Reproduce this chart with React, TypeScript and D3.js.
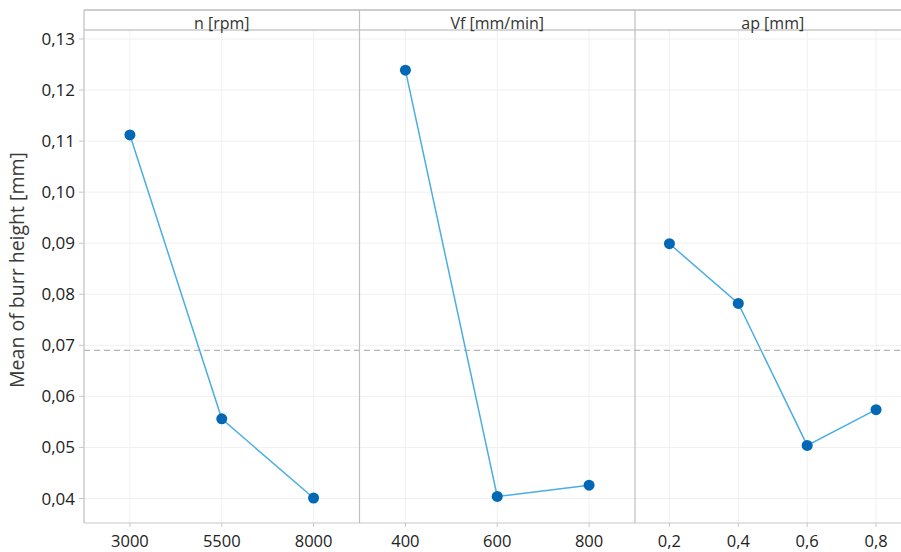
import React from "react";
import * as d3 from "d3";

const panelTitles = ["n [rpm]", "Vf [mm/min]", "ap [mm]"];
const nLevels = ["3000", "5500", "8000"];
const nMeans = [0.1112, 0.0556, 0.0401];
const vfLevels = ["400", "600", "800"];
const vfMeans = [0.1239, 0.0404, 0.0426];
const apLevels = ["0,2", "0,4", "0,6", "0,8"];
const apMeans = [0.0899, 0.0782, 0.0504, 0.0574];
const grandMean = 0.069;
const yTicks = [0.04, 0.05, 0.06, 0.07, 0.08, 0.09, 0.1, 0.11, 0.12, 0.13];
const yLabel = "Mean of burr height [mm]";

const W = 901;
const H = 552;
const left = 84;
const top = 10;
const stripBottom = 30;
const bottom = 523;
const panelW = 275.5;
const FONT = "'Open Sans', 'Noto Sans', sans-serif";

export default function App() {
  const y = d3.scaleLinear().domain([0.04, 0.13]).range([498.5, 39]);
  const panels = [
    { title: panelTitles[0], levels: nLevels, means: nMeans },
    { title: panelTitles[1], levels: vfLevels, means: vfMeans },
    { title: panelTitles[2], levels: apLevels, means: apMeans },
  ];
  const fmt = (v: number) => d3.format(".2f")(v).replace(".", ",");
  const line = d3.line<[number, number]>().x((d) => d[0]).y((d) => d[1]);
  const xFor = (i: number, levels: string[]) => {
    const x0 = left + i * panelW;
    return d3.scalePoint<string>().domain(levels).range([x0, x0 + panelW]).padding(0.5);
  };

  return (
    <svg
      width={W}
      height={H}
      style={{ position: "absolute", left: 0, top: 0, background: "#fff" }}
      fontFamily={FONT}
    >
      {/* horizontal grid */}
      {yTicks.map((t) => (
        <line key={"hg" + t} x1={left} x2={W} y1={y(t)} y2={y(t)} stroke="#f0f0f0" strokeWidth={1} />
      ))}
      {panels.map((p, i) => {
        const x = xFor(i, p.levels);
        return (
          <g key={p.title}>
            {p.levels.map((l) => (
              <g key={l}>
                <line x1={x(l)} x2={x(l)} y1={stripBottom} y2={bottom} stroke="#f0f0f0" strokeWidth={1} />
                <line x1={x(l)} x2={x(l)} y1={bottom} y2={bottom + 4} stroke="#c8c8c8" strokeWidth={1} />
                <text x={x(l)} y={546.5} textAnchor="middle" fontSize={16.5} fill="#222">
                  {l}
                </text>
              </g>
            ))}
          </g>
        );
      })}
      {/* mean reference line */}
      <line x1={left} x2={W} y1={y(grandMean)} y2={y(grandMean)} stroke="#b4b4b4" strokeWidth={1.2} strokeDasharray="6,4" />
      {panels.map((p, i) => {
        const x = xFor(i, p.levels);
        const pts: [number, number][] = p.levels.map((l, j) => [x(l)!, y(p.means[j])]);
        return (
          <g key={"d" + p.title}>
            <path d={line(pts) || ""} fill="none" stroke="#4aaee3" strokeWidth={1.5} />
            {pts.map((pt, j) => (
              <circle key={j} cx={pt[0]} cy={pt[1]} r={5.5} fill="#0068b5" />
            ))}
          </g>
        );
      })}
      {/* frame */}
      <line x1={left} x2={W} y1={top} y2={top} stroke="#bdbdbd" strokeWidth={1.5} />
      <line x1={left} x2={W} y1={stripBottom} y2={stripBottom} stroke="#b0b0b0" strokeWidth={1.2} />
      <line x1={left} x2={W} y1={bottom} y2={bottom} stroke="#c8c8c8" strokeWidth={1.2} />
      {[0, 1, 2].map((i) => (
        <line
          key={"v" + i}
          x1={left + i * panelW}
          x2={left + i * panelW}
          y1={top}
          y2={bottom}
          stroke="#c0c0c0"
          strokeWidth={1.2}
        />
      ))}
      {panels.map((p, i) => (
        <text key={"t" + i} x={left + i * panelW + panelW / 2} y={29} textAnchor="middle" fontSize={16} fill="#333">
          {p.title}
        </text>
      ))}
      {/* y axis ticks */}
      {yTicks.map((t) => (
        <g key={"yt" + t}>
          <line x1={left - 5} x2={left} y1={y(t)} y2={y(t)} stroke="#c8c8c8" strokeWidth={1} />
          <text x={left - 9} y={y(t) + 6} textAnchor="end" fontSize={17} fill="#222">
            {fmt(t)}
          </text>
        </g>
      ))}
      <text
        transform={`translate(24, 270) rotate(-90)`}
        textAnchor="middle"
        fontSize={19.5}
        fill="#3a3a3a"
      >
        {yLabel}
      </text>
    </svg>
  );
}
